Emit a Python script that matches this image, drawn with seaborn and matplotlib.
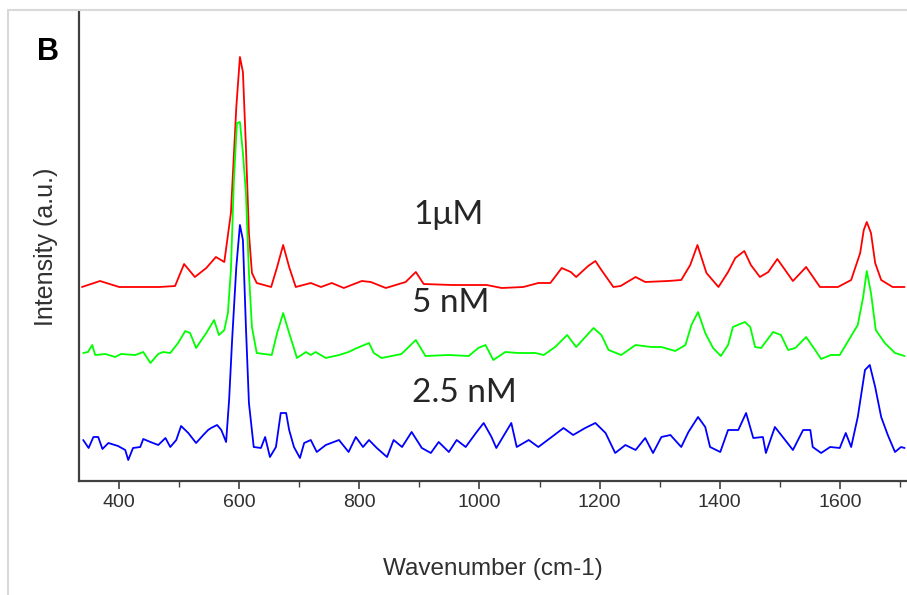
import matplotlib
matplotlib.use("Agg")
import matplotlib.pyplot as plt
import seaborn as sns
import pandas as pd
from matplotlib.patches import Rectangle
from matplotlib.ticker import MultipleLocator

# Raman spectra (intensity in arbitrary units, traces offset)
wn_1uM = [338, 368, 400, 433, 467, 493, 508, 526, 545, 561,
          575, 586, 595, 601, 606, 611, 616, 621, 629, 653,
          663, 673, 683, 694, 719, 736, 754, 774, 804, 819,
          844, 877, 894, 907, 954, 1012, 1037, 1073, 1098, 1118,
          1137, 1152, 1161, 1181, 1193, 1203, 1223, 1235, 1260, 1276,
          1314, 1336, 1351, 1363, 1378, 1398, 1414, 1426, 1441, 1452,
          1467, 1481, 1496, 1522, 1544, 1567, 1597, 1619, 1634, 1640,
          1645, 1652, 1659, 1669, 1688, 1708]
int_1uM = [194, 200, 194, 194, 194, 195, 217, 204, 213, 224,
           219, 268, 374, 424, 409, 334, 248, 208, 198, 194,
           214, 236, 214, 194, 198, 194, 198, 193, 200, 199,
           193, 199, 209, 197, 196, 196, 193, 194, 198, 198,
           213, 209, 204, 215, 220, 211, 194, 195, 204, 199,
           200, 201, 216, 236, 208, 194, 209, 223, 230, 216,
           204, 209, 222, 200, 214, 194, 194, 201, 228, 251,
           259, 248, 218, 201, 194, 194]

wn_5nM = [340, 348, 355, 360, 377, 393, 403, 427, 440, 452,
          465, 473, 485, 498, 510, 518, 528, 545, 558, 566,
          575, 581, 586, 591, 596, 601, 606, 611, 616, 621,
          629, 654, 663, 673, 683, 696, 711, 719, 727, 744,
          766, 782, 796, 816, 824, 837, 870, 894, 910, 949,
          982, 998, 1010, 1023, 1043, 1065, 1093, 1107, 1126, 1146,
          1161, 1190, 1203, 1215, 1236, 1260, 1286, 1303, 1326, 1343,
          1353, 1364, 1376, 1389, 1402, 1414, 1422, 1442, 1451, 1459,
          1469, 1489, 1502, 1514, 1526, 1544, 1559, 1569, 1585, 1600,
          1617, 1630, 1639, 1645, 1652, 1660, 1675, 1692, 1708]
int_5nM = [128, 129, 136, 126, 127, 124, 127, 126, 129, 118,
           127, 129, 128, 138, 150, 148, 133, 148, 161, 146,
           151, 168, 211, 301, 358, 359, 328, 288, 208, 154,
           128, 126, 148, 168, 148, 123, 129, 126, 129, 123,
           126, 129, 133, 138, 128, 123, 127, 141, 125, 126,
           125, 133, 136, 121, 129, 128, 128, 126, 134, 146,
           134, 153, 146, 131, 126, 136, 134, 134, 130, 136,
           156, 169, 148, 133, 125, 136, 154, 159, 154, 134,
           133, 149, 146, 131, 133, 144, 131, 122, 126, 126,
           143, 156, 184, 210, 188, 151, 138, 128, 125]

wn_25nM = [340, 349, 357, 365, 372, 382, 398, 410, 415, 423,
           435, 440, 452, 465, 477, 485, 495, 503, 515, 528,
           540, 548, 553, 563, 570, 578, 583, 588, 595, 601,
           606, 611, 616, 624, 636, 643, 651, 661, 669, 678,
           683, 691, 701, 708, 719, 729, 744, 766, 782, 794,
           806, 816, 829, 846, 857, 871, 887, 904, 919, 932,
           949, 962, 977, 994, 1007, 1020, 1028, 1043, 1053, 1062,
           1082, 1098, 1118, 1140, 1156, 1176, 1193, 1210, 1226, 1243,
           1260, 1276, 1289, 1303, 1318, 1336, 1348, 1364, 1376, 1384,
           1401, 1414, 1431, 1444, 1456, 1472, 1477, 1492, 1509, 1522,
           1539, 1551, 1555, 1569, 1584, 1600, 1610, 1619, 1630, 1642,
           1650, 1659, 1669, 1680, 1692, 1702, 1708]
int_25nM = [41, 33, 44, 44, 32, 38, 35, 31, 21, 33,
            34, 42, 39, 36, 43, 34, 41, 55, 48, 38,
            46, 51, 53, 56, 51, 39, 81, 141, 214, 256,
            241, 154, 78, 34, 33, 44, 24, 34, 68, 68,
            51, 34, 23, 38, 41, 29, 36, 41, 29, 44,
            34, 41, 33, 24, 41, 34, 49, 33, 28, 39,
            29, 41, 34, 48, 58, 44, 33, 48, 58, 34,
            41, 34, 43, 53, 46, 53, 58, 48, 28, 36,
            31, 43, 28, 44, 46, 34, 49, 64, 54, 34,
            29, 51, 51, 68, 43, 44, 28, 54, 41, 31,
            51, 51, 34, 28, 34, 33, 48, 34, 64, 111,
            116, 94, 64, 46, 29, 34, 33]

series_names = ["1\u03bcM", "5 nM", "2.5 nM"]
series_colors = ["#ff0000", "#00ff00", "#0000ff"]
label_wn = [890, 887, 887]
label_int = [266, 178, 88]

frames = []
for name, wn, inten in zip(series_names,
                           [wn_1uM, wn_5nM, wn_25nM],
                           [int_1uM, int_5nM, int_25nM]):
    frames.append(pd.DataFrame({"wn": wn, "intensity": inten, "sample": name}))
df = pd.concat(frames, ignore_index=True)

sns.set_style("white")
plt.rcParams["font.family"] = ["Liberation Sans", "DejaVu Sans"]

fig = plt.figure(figsize=(9.07, 5.95), dpi=100)
ax = fig.add_axes([79 / 907, 114 / 595, 828 / 907, 469 / 595])

sns.lineplot(data=df, x="wn", y="intensity", hue="sample",
             palette=dict(zip(series_names, series_colors)),
             hue_order=series_names, estimator=None, sort=False,
             linewidth=1.3, legend=False, ax=ax)

ax.set_xlim(333, 1712)
ax.set_ylim(0, 469)
ax.set_yticks([])
ax.xaxis.set_major_locator(MultipleLocator(200))
ax.xaxis.set_minor_locator(MultipleLocator(100))
ax.tick_params(axis="x", which="major", direction="out", length=6, width=1.2,
               colors="#404040", labelsize=14, labelcolor="#303030", bottom=True)
ax.tick_params(axis="x", which="minor", direction="out", length=4, width=1.0,
               colors="#404040", bottom=True)

for side in ["top", "right"]:
    ax.spines[side].set_visible(False)
for side in ["left", "bottom"]:
    ax.spines[side].set_color("#404040")
    ax.spines[side].set_linewidth(1.6)

ax.set_xlabel("Wavenumber (cm-1)", fontsize=17.5, color="#303030", labelpad=34)
ax.set_ylabel("Intensity (a.u.)", fontsize=18, color="#303030", labelpad=15)

for name, x, y in zip(series_names, label_wn, label_int):
    ax.text(x, y, name, fontsize=24, color="#262626", va="center", ha="left",
            family=["Lato", "DejaVu Sans"])

fig.text(48 / 907, 1 - 52 / 595, "B", fontsize=22, fontweight="bold",
         ha="center", va="center", color="black")

# light frame around the panel
fig.patches.append(Rectangle((8 / 907, -0.1), 1.2, 1 - 10 / 595 + 0.1,
                             transform=fig.transFigure, fill=False,
                             edgecolor="#d9d9d9", linewidth=1.5))

fig.savefig("out.png", dpi=100)
